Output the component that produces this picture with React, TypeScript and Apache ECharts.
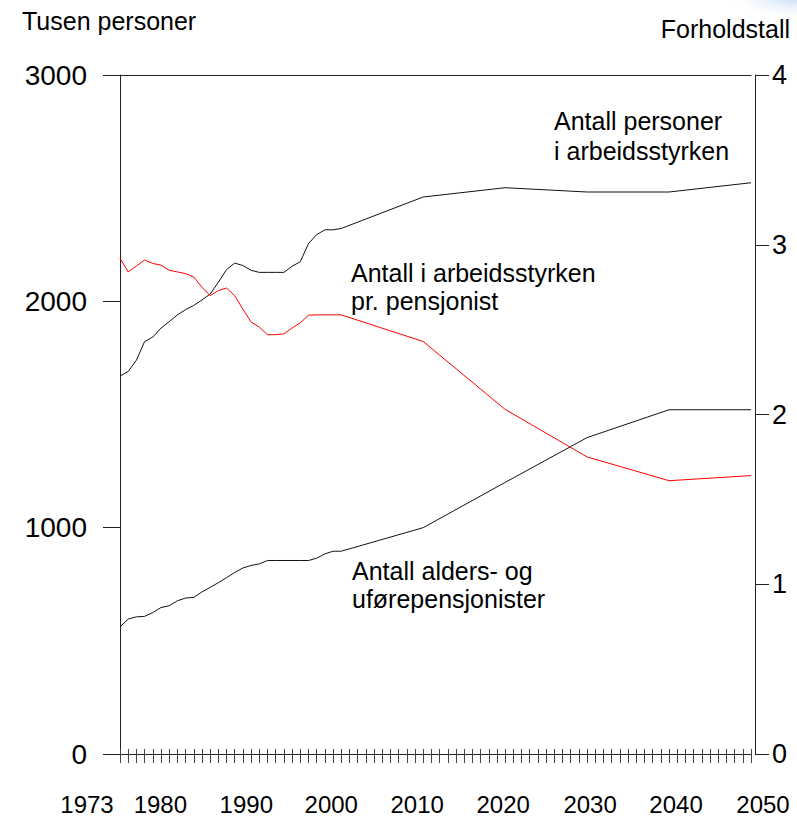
import React, { useEffect, useRef } from "react";
import * as echarts from "echarts";

// ---- data ----
const years = [
  1973, 1974, 1975, 1976, 1977, 1978, 1979, 1980, 1981, 1982, 1983, 1984, 1985, 1986,
  1987, 1988, 1989, 1990, 1991, 1992, 1993, 1994, 1995, 1996, 1997, 1998, 1999, 2000,
  2010, 2020, 2030, 2040, 2050,
];

// Antall personer i arbeidsstyrken (tusen personer)
const labourForce = [
  1670, 1690, 1740, 1822, 1842, 1882, 1910, 1940, 1963, 1982, 2006, 2032, 2084, 2140,
  2169, 2158, 2137, 2128, 2128, 2128, 2128, 2155, 2175, 2255, 2295, 2316, 2316, 2322,
  2461, 2502, 2483, 2483, 2524,
];

// Antall alders- og uførepensjonister (tusen personer)
const pensioners = [
  562, 596, 606, 608, 625, 647, 655, 677, 689, 692, 716, 736, 757, 779,
  802, 822, 833, 840, 855, 855, 855, 855, 855, 855, 865, 884, 896, 896,
  1000, 1200, 1398, 1521, 1521,
];

// Antall i arbeidsstyrken pr. pensjonist (forholdstall)
const ratio = [
  2.92, 2.84, 2.875, 2.91, 2.89, 2.88, 2.85, 2.84, 2.83, 2.81, 2.75, 2.7, 2.73, 2.745,
  2.7, 2.62, 2.545, 2.515, 2.47, 2.47, 2.475, 2.51, 2.54, 2.585, 2.587, 2.587, 2.587, 2.587,
  2.43, 2.03, 1.75, 1.61, 1.64,
];

const xTickLabels = [1973, 1980, 1990, 2000, 2010, 2020, 2030, 2040, 2050];
const leftTickLabels = [0, 1000, 2000, 3000];
const rightTickLabels = [0, 1, 2, 3, 4];

// label nudges (px) so the year labels sit where the original put them
const xLabelNudge = [-33, -17, -13, -10, -6, -2, 3, 7, 12];

const FONT = "'Liberation Sans', Arial, Helvetica, sans-serif";

export default function App() {
  const ref = useRef<HTMLDivElement>(null);

  useEffect(() => {
    if (!ref.current) return;
    const chart = echarts.init(ref.current, undefined, { renderer: "svg" });

    const rich: Record<string, any> = {};
    xTickLabels.forEach((v, i) => {
      const s = xLabelNudge[i];
      rich["n" + i] = {
        fontSize: 24,
        fontFamily: FONT,
        color: "#000",
        padding: s < 0 ? [0, -2 * s, 0, 0] : [0, 0, 0, 2 * s],
      };
    });

    const pairs = (vals: number[]) => years.map((y, i) => [y, vals[i]]);

    const option: any = {
      animation: false,
      backgroundColor: "#fff",
      textStyle: { fontFamily: FONT },
      grid: { left: 120, right: 46, top: 75, bottom: 59, containLabel: false },
      xAxis: [
        {
          type: "value",
          position: "bottom",
          min: 1973,
          max: 2050,
          interval: 1,
          offset: 6,
          axisLine: { show: true, lineStyle: { color: "#222", width: 1 } },
          axisTick: { show: true, inside: false, length: 9, lineStyle: { color: "#444", width: 1 } },
          splitLine: { show: false },
          axisLabel: {
            customValues: xTickLabels,
            margin: 32,
            fontSize: 24,
            color: "#000",
            fontFamily: FONT,
            formatter: (v: number) => {
              const i = xTickLabels.indexOf(Math.round(v));
              return i >= 0 ? `{n${i}|${Math.round(v)}}` : "";
            },
            rich,
          },
        },
        {
          type: "value",
          position: "bottom",
          min: 1973,
          max: 2050,
          interval: 1,
          offset: 6,
          axisLine: { show: false },
          axisTick: { show: true, inside: true, length: 5, lineStyle: { color: "#444", width: 1 } },
          axisLabel: { show: false },
          splitLine: { show: false },
        },
        {
          type: "value",
          position: "top",
          min: 1973,
          max: 2050,
          axisLine: { show: true, lineStyle: { color: "#222", width: 1 } },
          axisTick: { show: false },
          axisLabel: { show: false },
          splitLine: { show: false },
        },
      ],
      yAxis: [
        {
          type: "value",
          position: "left",
          min: leftTickLabels[0],
          max: leftTickLabels[leftTickLabels.length - 1],
          interval: 1000,
          axisLine: { show: true, lineStyle: { color: "#222", width: 1 } },
          axisTick: { show: true, inside: false, length: 17, lineStyle: { color: "#222" } },
          splitLine: { show: false },
          axisLabel: {
            margin: 33,
            fontSize: 28,
            color: "#000",
            fontFamily: FONT,
            formatter: (v: number) => String(v),
          },
        },
        {
          type: "value",
          position: "right",
          offset: 4,
          min: rightTickLabels[0],
          max: rightTickLabels[rightTickLabels.length - 1],
          interval: 1,
          axisLine: { show: true, lineStyle: { color: "#222", width: 1 } },
          axisTick: { show: true, inside: false, length: 14, lineStyle: { color: "#222" } },
          splitLine: { show: false },
          axisLabel: {
            margin: 17,
            fontSize: 27,
            color: "#000",
            fontFamily: FONT,
            formatter: (v: number) => String(v),
          },
        },
      ],
      series: [
        {
          name: "Antall personer i arbeidsstyrken",
          type: "line",
          xAxisIndex: 0,
          yAxisIndex: 0,
          data: pairs(labourForce),
          showSymbol: false,
          symbol: "none",
          lineStyle: { color: "#111", width: 1 },
        },
        {
          name: "Antall alders- og uførepensjonister",
          type: "line",
          xAxisIndex: 0,
          yAxisIndex: 0,
          data: pairs(pensioners),
          showSymbol: false,
          symbol: "none",
          lineStyle: { color: "#111", width: 1 },
        },
        {
          name: "Antall i arbeidsstyrken pr. pensjonist",
          type: "line",
          xAxisIndex: 0,
          yAxisIndex: 1,
          data: pairs(ratio),
          showSymbol: false,
          symbol: "none",
          lineStyle: { color: "#ff0000", width: 1 },
        },
      ],
      graphic: [
        {
          type: "ellipse",
          shape: { cx: 800, cy: -6, rx: 70, ry: 24 },
          style: {
            fill: new echarts.graphic.RadialGradient(0.5, 0.5, 0.5, [
              { offset: 0, color: "rgba(120,170,230,0.55)" },
              { offset: 1, color: "rgba(200,225,250,0)" },
            ]),
          },
          silent: true,
        },
        {
          type: "text",
          left: 22,
          top: 8,
          style: { text: "Tusen personer", fontSize: 25, fontFamily: FONT, fill: "#000" },
        },
        {
          type: "text",
          right: 7,
          top: 16,
          style: { text: "Forholdstall", fontSize: 25, fontFamily: FONT, fill: "#000" },
        },
        {
          type: "text",
          left: 554,
          top: 106,
          style: {
            text: "Antall personer\ni arbeidsstyrken",
            fontSize: 25,
            lineHeight: 30,
            fontFamily: FONT,
            fill: "#000",
          },
        },
        {
          type: "text",
          left: 351,
          top: 259,
          style: {
            text: "Antall i arbeidsstyrken\npr. pensjonist",
            fontSize: 25,
            lineHeight: 28,
            fontFamily: FONT,
            fill: "#000",
          },
        },
        {
          type: "text",
          left: 352,
          top: 557,
          style: {
            text: "Antall alders- og\nuførepensjonister",
            fontSize: 25,
            lineHeight: 28,
            fontFamily: FONT,
            fill: "#000",
          },
        },
      ],
    };

    chart.setOption(option);
    return () => chart.dispose();
  }, []);

  return (
    <div
      ref={ref}
      style={{ position: "absolute", left: 0, top: 0, width: 797, height: 816, background: "#fff" }}
    />
  );
}
